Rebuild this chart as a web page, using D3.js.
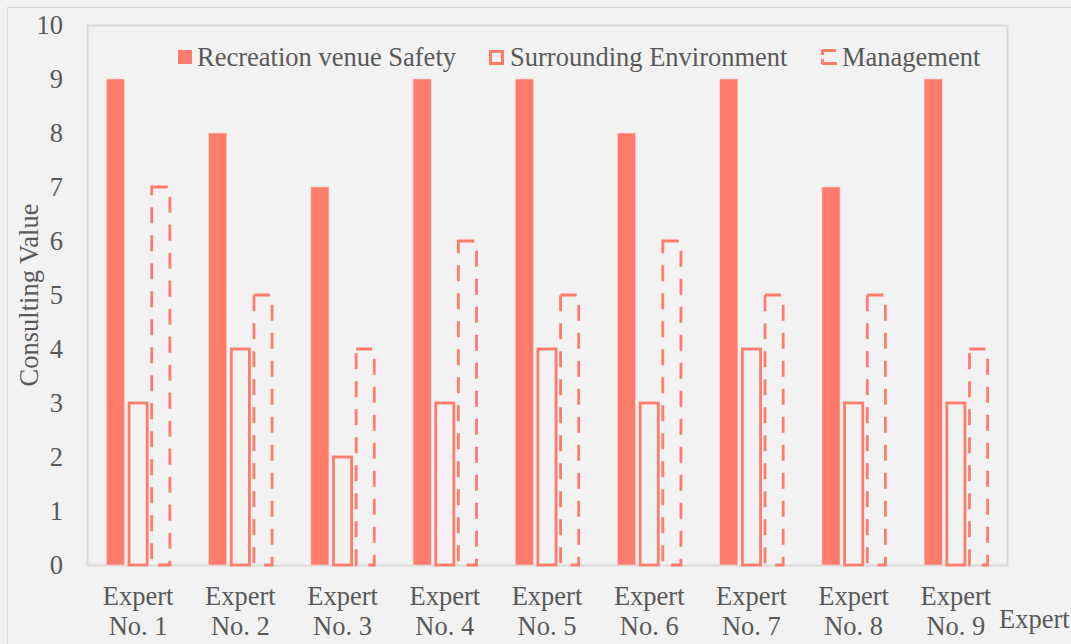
<!DOCTYPE html>
<html>
<head>
<meta charset="utf-8">
<script src="https://cdn.jsdelivr.net/npm/d3@7"></script>
<style>
  html, body { margin: 0; padding: 0; background: #f2f2f2; }
  svg text { font-family: "Liberation Serif", "Times New Roman", serif; fill: #595959; }
</style>
</head>
<body>
<div id="chart"></div>
<script>
const experts = ["No. 1", "No. 2", "No. 3", "No. 4", "No. 5", "No. 6", "No. 7", "No. 8", "No. 9"];
const seriesNames = ["Recreation venue Safety", "Surrounding Environment", "Management"];
const safety = [9, 8, 7, 9, 9, 8, 9, 7, 9];
const surrounding = [3, 4, 2, 3, 4, 3, 4, 3, 3];
const management = [7, 5, 4, 6, 5, 6, 5, 5, 4];
const yTicks = [0, 1, 2, 3, 4, 5, 6, 7, 8, 9, 10];

const W = 1071, H = 644;
const red = "#ff7b6b";
const fontSize = "26.5px";
const plot = { left: 87, right: 1007, top: 25, bottom: 565 };

const svg = d3.select("#chart").append("svg")
    .attr("width", W)
    .attr("height", H);

// chart area
svg.append("rect")
    .attr("x", 7.5).attr("y", 7.5)
    .attr("width", W + 10).attr("height", H + 10)
    .attr("fill", "#f2f2f2")
    .attr("stroke", "#d9d9d9")
    .attr("stroke-width", 1);

const x0 = d3.scaleBand().domain(experts).range([plot.left, plot.right]);
const groupW = 68;
const x1 = d3.scaleBand().domain(seriesNames).range([0, groupW]).paddingInner(0.2).paddingOuter(0.1);
const y = d3.scaleLinear().domain([0, 10]).range([plot.bottom, plot.top]);

// plot area border
svg.append("rect")
    .attr("x", plot.left + 0.5).attr("y", plot.top + 0.5)
    .attr("width", plot.right - plot.left).attr("height", plot.bottom - plot.top)
    .attr("fill", "none")
    .attr("stroke", "#d9d9d9")
    .attr("stroke-width", 2);

const rows = experts.map((e, i) => ({
    expert: e,
    values: [safety[i], surrounding[i], management[i]]
}));

const groups = svg.append("g").selectAll("g.group")
    .data(rows)
    .enter()
    .append("g")
    .attr("class", "group")
    .attr("transform", d => `translate(${x0(d.expert) + (x0.bandwidth() - groupW) / 2},0)`);

const bw = x1.bandwidth();

// solid bars
groups.append("rect")
    .attr("x", x1(seriesNames[0]))
    .attr("y", d => y(d.values[0]))
    .attr("width", bw)
    .attr("height", d => y(0) - y(d.values[0]))
    .attr("fill", red)
    .attr("stroke", "#ffd5cf")
    .attr("stroke-width", 0.6);

// outline bars
groups.append("rect")
    .attr("x", x1(seriesNames[1]))
    .attr("y", d => y(d.values[1]))
    .attr("width", bw)
    .attr("height", d => y(0) - y(d.values[1]))
    .attr("fill", "none")
    .attr("stroke", red)
    .attr("stroke-width", 2.8);

// dashed bars
groups.append("rect")
    .attr("x", x1(seriesNames[2]))
    .attr("y", d => y(d.values[2]))
    .attr("width", bw)
    .attr("height", d => y(0) - y(d.values[2]))
    .attr("fill", "none")
    .attr("stroke", red)
    .attr("stroke-width", 2.8)
    .attr("stroke-dasharray", "16,12");

// y axis labels
const yAxis = svg.append("g")
    .attr("transform", `translate(${plot.left},0)`)
    .call(d3.axisLeft(y).tickValues(yTicks).tickSize(0).tickPadding(24));
yAxis.select(".domain").remove();
yAxis.selectAll("text")
    .style("font-size", fontSize)
    .attr("fill", "#595959")
    .attr("dy", "0.33em");

// x axis labels (two lines)
const xLabels = svg.append("g").selectAll("text.xl")
    .data(experts)
    .enter()
    .append("text")
    .attr("class", "xl")
    .attr("text-anchor", "middle")
    .style("font-size", fontSize)
    .attr("x", d => x0(d) + x0.bandwidth() / 2);
xLabels.append("tspan")
    .attr("x", d => x0(d) + x0.bandwidth() / 2)
    .attr("y", 605)
    .text("Expert");
xLabels.append("tspan")
    .attr("x", d => x0(d) + x0.bandwidth() / 2)
    .attr("y", 635)
    .text(d => d);

// axis titles
svg.append("text")
    .attr("x", 999).attr("y", 628)
    .style("font-size", fontSize)
    .text("Expert");

svg.append("text")
    .attr("transform", `translate(38,${(plot.top + plot.bottom) / 2}) rotate(-90)`)
    .attr("text-anchor", "middle")
    .style("font-size", fontSize)
    .text("Consulting Value");

// legend
const legendX = [178, 489, 821];
const legend = svg.append("g").selectAll("g.leg")
    .data(seriesNames)
    .enter()
    .append("g")
    .attr("class", "leg")
    .attr("transform", (d, i) => `translate(${legendX[i]},0)`);

legend.each(function (d, i) {
    const g = d3.select(this);
    if (i === 0) {
        g.append("rect").attr("x", 0).attr("y", 50).attr("width", 14).attr("height", 14).attr("fill", red);
    } else if (i === 1) {
        g.append("rect").attr("x", 1.5).attr("y", 51.5).attr("width", 12).attr("height", 12)
            .attr("fill", "none").attr("stroke", red).attr("stroke-width", 3);
    } else {
        g.append("path").attr("d", "M1,50.5 H15 M1,63.5 H16")
            .attr("stroke", red).attr("stroke-width", 3).attr("fill", "none");
        g.append("path").attr("d", "M1.5,50 V55 M1.5,59 V64")
            .attr("stroke", red).attr("stroke-width", 3).attr("fill", "none");
    }
    g.append("text")
        .attr("x", i === 0 ? 19 : 21)
        .attr("y", 66)
        .style("font-size", fontSize)
        .text(d);
});
</script>
</body>
</html>
